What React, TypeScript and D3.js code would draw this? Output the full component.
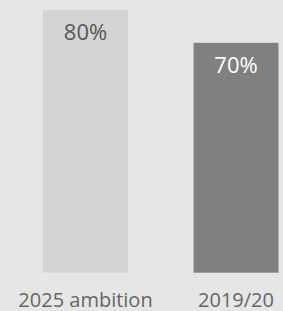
import React, { useEffect, useRef } from 'react';
import * as d3 from 'd3';

const categories = ['2025 ambition', '2019/20'];
const values = [80, 70];
const valueLabels = ['80%', '70%'];
const barColors = ['#d4d4d4', '#808080'];
const labelColors = ['#575757', '#ffffff'];

const width = 283;
const height = 311;

export default function App() {
    const svgRef = useRef<SVGSVGElement>(null);

    useEffect(() => {
        if (!svgRef.current) return;
        document.body.style.margin = '0';

        const svg = d3.select(svgRef.current);
        svg.selectAll('*').remove();

        svg.append('rect')
            .attr('width', width)
            .attr('height', height)
            .attr('fill', '#e6e6e6');

        const x = d3.scaleBand<string>()
            .domain(categories)
            .range([27.95, 293.6])
            .paddingInner(0.435)
            .paddingOuter(0.1);

        // baseline sits just above the category labels
        const y = d3.scaleLinear()
            .domain([0, 80])
            .range([272.7, 10]);

        const bars = svg.selectAll('g.bar')
            .data(values)
            .join('g')
            .attr('class', 'bar');

        bars.append('rect')
            .attr('x', (_, i) => x(categories[i])!)
            .attr('y', d => y(d))
            .attr('width', x.bandwidth())
            .attr('height', d => y(0) - y(d))
            .attr('fill', (_, i) => barColors[i]);

        bars.append('text')
            .attr('x', (_, i) => x(categories[i])! + x.bandwidth() / 2)
            .attr('y', d => y(d) + 30)
            .attr('text-anchor', 'middle')
            .attr('fill', (_, i) => labelColors[i])
            .style('font-family', '"Open Sans", sans-serif')
            .style('font-size', '22px')
            .text((_, i) => valueLabels[i]);

        svg.selectAll('text.cat')
            .data(categories)
            .join('text')
            .attr('class', 'cat')
            .attr('x', d => x(d)! + x.bandwidth() / 2)
            .attr('y', 306.5)
            .attr('text-anchor', 'middle')
            .attr('fill', '#666666')
            .style('font-family', '"Open Sans", sans-serif')
            .style('font-size', '20px')
            .text(d => d);
    }, []);

    return <svg ref={svgRef} width={width} height={height} style={{ display: 'block' }}></svg>;
}
